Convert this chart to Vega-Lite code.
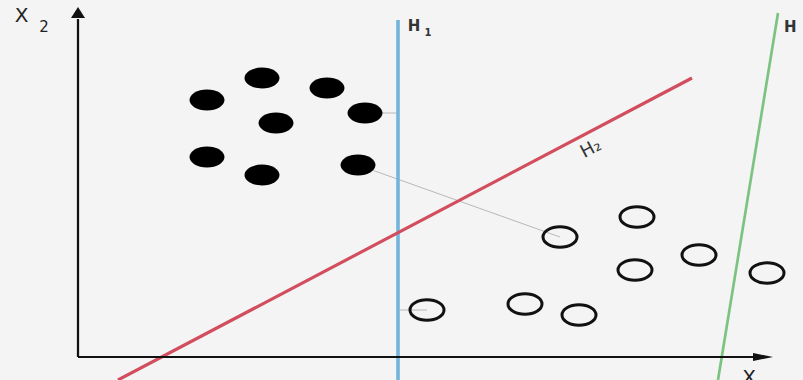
{
  "$schema": "https://vega.github.io/schema/vega-lite/v6.json",
  "width": 803,
  "height": 380,
  "autosize": {"type": "none"},
  "padding": 0,
  "background": "#f4f4f4",
  "config": {"view": {"stroke": null}},
  "datasets": {
    "lines": [
      {"id": "g1", "kind": "helper", "u": 280, "v": 192},
      {"id": "g1", "kind": "helper", "u": 482, "v": 120},
      {"id": "g2", "kind": "helper", "u": 287, "v": 244},
      {"id": "g2", "kind": "helper", "u": 320, "v": 244},
      {"id": "g3", "kind": "helper", "u": 320, "v": 47},
      {"id": "g3", "kind": "helper", "u": 349, "v": 47},
      {"id": "H1", "kind": "plane", "u": 320, "v": 337},
      {"id": "H1", "kind": "plane", "u": 320, "v": -23},
      {"id": "H2", "kind": "plane", "u": 40, "v": -23},
      {"id": "H2", "kind": "plane", "u": 614, "v": 279},
      {"id": "H3", "kind": "plane", "u": 640, "v": -23},
      {"id": "H3", "kind": "plane", "u": 700, "v": 344},
      {"id": "x2", "kind": "axis", "u": 0, "v": 0},
      {"id": "x2", "kind": "axis", "u": 0, "v": 338},
      {"id": "x1", "kind": "axis", "u": 0, "v": 0},
      {"id": "x1", "kind": "axis", "u": 677, "v": 0}
    ],
    "arrows": [
      {"dir": "up", "u": 0, "v": 344.5},
      {"dir": "right", "u": 685, "v": 0}
    ],
    "pts": [
      {"cls": "filled", "u": 129, "v": 257},
      {"cls": "filled", "u": 184, "v": 279},
      {"cls": "filled", "u": 249, "v": 269},
      {"cls": "filled", "u": 287, "v": 244},
      {"cls": "filled", "u": 198, "v": 234},
      {"cls": "filled", "u": 129, "v": 200},
      {"cls": "filled", "u": 184, "v": 182},
      {"cls": "filled", "u": 280, "v": 192},
      {"cls": "open", "u": 482, "v": 120},
      {"cls": "open", "u": 559, "v": 140},
      {"cls": "open", "u": 557, "v": 87},
      {"cls": "open", "u": 621, "v": 102},
      {"cls": "open", "u": 689, "v": 84},
      {"cls": "open", "u": 349, "v": 47},
      {"cls": "open", "u": 447, "v": 53},
      {"cls": "open", "u": 501, "v": 42}
    ],
    "labels": [
      {"t": "X", "r": "axis", "u": -56.5, "v": 335},
      {"t": "X", "r": "axis", "u": 671, "v": -27},
      {"t": "2", "r": "sub", "u": -34, "v": 325},
      {"t": "H", "r": "h", "u": 336, "v": 326},
      {"t": "1", "r": "hsub", "u": 350, "v": 321},
      {"t": "H", "r": "h3", "u": 706, "v": 325},
      {"t": "H₂", "r": "rot", "u": 513, "v": 208}
    ]
  },
  "encoding": {
    "x": {"field": "u", "type": "quantitative", "scale": {"domain": [-78, 725], "nice": false, "zero": false}, "axis": null},
    "y": {"field": "v", "type": "quantitative", "scale": {"domain": [-23, 357], "nice": false, "zero": false}, "axis": null}
  },
  "layer": [
    {
      "data": {"name": "lines"},
      "transform": [{"filter": "datum.kind === 'helper'"}],
      "mark": {"type": "line", "color": "#b8b8b8", "strokeWidth": 1},
      "encoding": {"detail": {"field": "id"}}
    },
    {
      "data": {"name": "lines"},
      "transform": [{"filter": "datum.kind === 'plane'"}],
      "mark": {"type": "line"},
      "encoding": {
        "detail": {"field": "id"},
        "color": {"field": "id", "type": "nominal", "scale": {"domain": ["H1", "H2", "H3"], "range": ["#74b4dc", "#d24d5e", "#7cc382"]}, "legend": null},
        "strokeWidth": {"field": "id", "type": "nominal", "scale": {"domain": ["H1", "H2", "H3"], "range": [3.6, 1.8, 2.8]}, "legend": null}
      }
    },
    {
      "data": {"name": "lines"},
      "transform": [{"filter": "datum.kind === 'axis'"}],
      "mark": {"type": "line", "color": "#111111"},
      "encoding": {
        "detail": {"field": "id"},
        "strokeWidth": {"field": "id", "type": "nominal", "scale": {"domain": ["x2", "x1"], "range": [3, 2]}, "legend": null}
      }
    },
    {
      "data": {"name": "arrows"},
      "mark": {"type": "point", "filled": true, "color": "#111111", "opacity": 1},
      "encoding": {
        "shape": {"field": "dir", "type": "nominal", "scale": {"domain": ["up", "right"], "range": ["M0,-1L1.27,1L-1.27,1Z", "M1,0L-1,0.4L-1,-0.4Z"]}, "legend": null},
        "size": {"field": "dir", "type": "nominal", "scale": {"domain": ["up", "right"], "range": [121, 400]}, "legend": null}
      }
    },
    {
      "data": {"name": "pts"},
      "transform": [{"filter": "datum.cls === 'filled'"}],
      "mark": {"type": "point", "filled": true, "color": "#000000", "opacity": 1, "size": 1225, "shape": "M-1,0A1,0.6,0,1,0,1,0A1,0.6,0,1,0,-1,0Z"}
    },
    {
      "data": {"name": "pts"},
      "transform": [{"filter": "datum.cls === 'open'"}],
      "mark": {"type": "point", "filled": false, "stroke": "#111111", "strokeWidth": 3, "opacity": 1, "size": 1156, "shape": "M-1,0A1,0.6,0,1,0,1,0A1,0.6,0,1,0,-1,0Z"}
    },
    {
      "data": {"name": "labels"},
      "transform": [{"filter": "datum.r === 'axis'"}],
      "mark": {"type": "text", "font": "DejaVu Sans", "fontSize": 20, "color": "#222222", "align": "center", "baseline": "alphabetic"},
      "encoding": {"text": {"field": "t"}}
    },
    {
      "data": {"name": "labels"},
      "transform": [{"filter": "datum.r === 'sub'"}],
      "mark": {"type": "text", "font": "DejaVu Sans", "fontSize": 15, "color": "#222222", "align": "center", "baseline": "alphabetic"},
      "encoding": {"text": {"field": "t"}}
    },
    {
      "data": {"name": "labels"},
      "transform": [{"filter": "datum.r === 'h'"}],
      "mark": {"type": "text", "font": "DejaVu Sans", "fontSize": 15, "fontWeight": "bold", "color": "#333333", "align": "center", "baseline": "alphabetic"},
      "encoding": {"text": {"field": "t"}}
    },
    {
      "data": {"name": "labels"},
      "transform": [{"filter": "datum.r === 'h3'"}],
      "mark": {"type": "text", "font": "DejaVu Sans", "fontSize": 15, "fontWeight": "bold", "color": "#333333", "align": "left", "baseline": "alphabetic"},
      "encoding": {"text": {"field": "t"}}
    },
    {
      "data": {"name": "labels"},
      "transform": [{"filter": "datum.r === 'hsub'"}],
      "mark": {"type": "text", "font": "DejaVu Sans", "fontSize": 10, "fontWeight": "bold", "color": "#333333", "align": "center", "baseline": "alphabetic"},
      "encoding": {"text": {"field": "t"}}
    },
    {
      "data": {"name": "labels"},
      "transform": [{"filter": "datum.r === 'rot'"}],
      "mark": {"type": "text", "font": "DejaVu Sans", "fontSize": 18, "color": "#333333", "align": "center", "baseline": "middle", "angle": 332},
      "encoding": {"text": {"field": "t"}}
    }
  ]
}
